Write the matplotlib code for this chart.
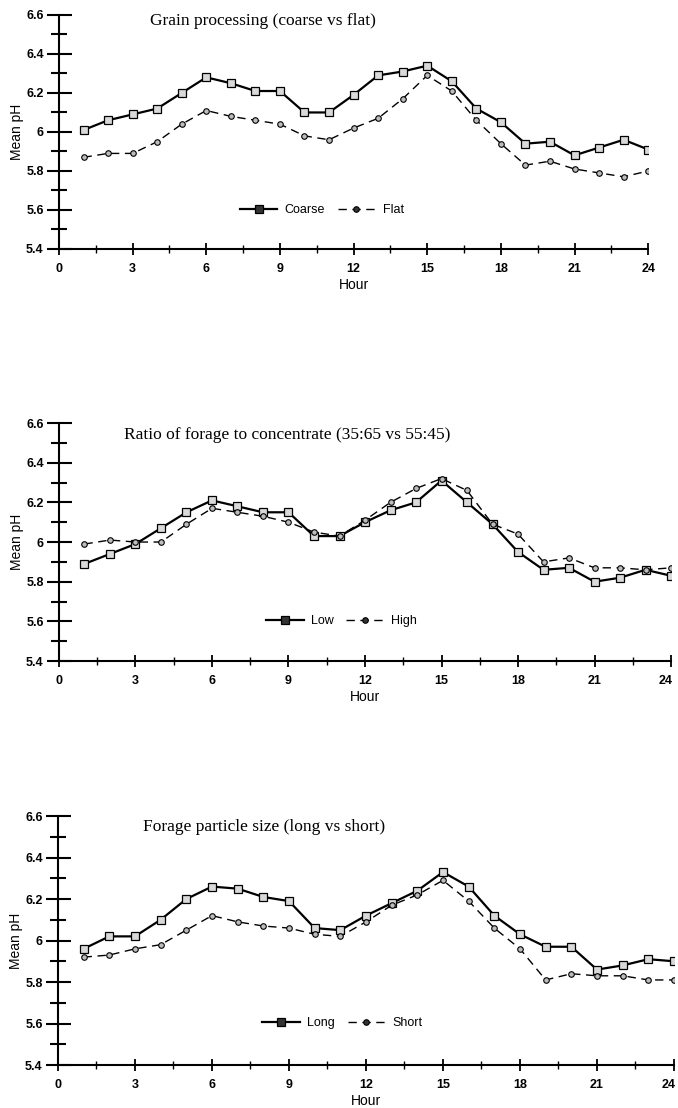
import matplotlib
matplotlib.use("Agg")
import matplotlib.pyplot as plt
from matplotlib.ticker import MultipleLocator, FixedLocator, FuncFormatter

# hours 1..24
hours = list(range(1, 25))

# panel 1: grain processing
coarse = [6.01, 6.06, 6.09, 6.12, 6.20, 6.28, 6.25, 6.21, 6.21, 6.10, 6.10, 6.19,
          6.29, 6.31, 6.34, 6.26, 6.12, 6.05, 5.94, 5.95, 5.88, 5.92, 5.96, 5.91]
flat = [5.87, 5.89, 5.89, 5.95, 6.04, 6.11, 6.08, 6.06, 6.04, 5.98, 5.96, 6.02,
        6.07, 6.17, 6.29, 6.21, 6.06, 5.94, 5.83, 5.85, 5.81, 5.79, 5.77, 5.80]

# panel 2: forage to concentrate ratio
low = [5.89, 5.94, 5.99, 6.07, 6.15, 6.21, 6.18, 6.15, 6.15, 6.03, 6.03, 6.10,
       6.16, 6.20, 6.31, 6.20, 6.09, 5.95, 5.86, 5.87, 5.80, 5.82, 5.86, 5.83]
high = [5.99, 6.01, 6.00, 6.00, 6.09, 6.17, 6.15, 6.13, 6.10, 6.05, 6.03, 6.11,
        6.20, 6.27, 6.32, 6.26, 6.09, 6.04, 5.90, 5.92, 5.87, 5.87, 5.86, 5.87]

# panel 3: forage particle size
long_ = [5.96, 6.02, 6.02, 6.10, 6.20, 6.26, 6.25, 6.21, 6.19, 6.06, 6.05, 6.12,
         6.18, 6.24, 6.33, 6.26, 6.12, 6.03, 5.97, 5.97, 5.86, 5.88, 5.91, 5.90]
short = [5.92, 5.93, 5.96, 5.98, 6.05, 6.12, 6.09, 6.07, 6.06, 6.03, 6.02, 6.09,
         6.17, 6.22, 6.29, 6.19, 6.06, 5.96, 5.81, 5.84, 5.83, 5.83, 5.81, 5.81]

titles = ["Grain processing (coarse vs flat)",
          "Ratio of forage to concentrate (35:65 vs 55:45)",
          "Forage particle size (long vs short)"]
labels = [("Coarse", "Flat"), ("Low", "High"), ("Long", "Short")]
series = [(coarse, flat), (low, high), (long_, short)]
title_x = [3.7, 2.55, 3.3]
title_y = [6.57, 6.54, 6.545]
legend_x = [0.446, 0.462, 0.462]

# axes rectangles in figure fractions (left, bottom, width, height)
rects = [(0.087, 0.7753, 0.869, 0.2112),
         (0.087, 0.4034, 0.9027, 0.2148),
         (0.0855, 0.0388, 0.9086, 0.2247)]

fig = plt.figure(figsize=(6.78, 11.08), dpi=100)
sans = "Liberation Sans"


def hour_fmt_cut(v, pos):
    # the last hour is drawn separately so it stays inside the figure
    return "" if v >= 24 else f"{v:.0f}"


for k in range(3):
    ax = fig.add_axes(rects[k])
    a, b = series[k]
    la, lb = labels[k]
    ax.plot(hours, a, '-', color='black', lw=1.6, marker='s', ms=6,
            mfc='#d9d9d9', mec='black', mew=0.9, label=la)
    ax.plot(hours, b, '--', color='black', lw=1.0, dashes=(6, 4), marker='o',
            ms=4, mfc='#bdbdbd', mec='black', mew=0.8, label=lb)

    ax.set_xlim(0, 24)
    ax.set_ylim(5.4, 6.6)
    ax.xaxis.set_major_locator(MultipleLocator(3))
    ax.xaxis.set_minor_locator(MultipleLocator(1.5))
    if k > 0:
        ax.xaxis.set_major_formatter(FuncFormatter(hour_fmt_cut))
    ax.yaxis.set_major_locator(FixedLocator([5.4, 5.6, 5.8, 6.0, 6.2, 6.4, 6.6]))
    ax.yaxis.set_minor_locator(MultipleLocator(0.1))
    ax.set_yticklabels(["5.4", "5.6", "5.8", "6", "6.2", "6.4", "6.6"])

    for s in ['top', 'right']:
        ax.spines[s].set_visible(False)
    for s in ['left', 'bottom']:
        ax.spines[s].set_linewidth(1.5)

    ax.tick_params(axis='y', which='major', direction='inout', length=18, width=1.5,
                   pad=2)
    ax.tick_params(axis='y', which='minor', direction='inout', length=12, width=1.5)
    ax.tick_params(axis='x', which='major', direction='inout', length=8, width=1.3,
                   pad=6)
    ax.tick_params(axis='x', which='minor', direction='inout', length=6, width=1.0)
    for t in ax.get_xticklabels() + ax.get_yticklabels():
        t.set_fontfamily(sans)
        t.set_fontweight('bold')
        t.set_fontsize(9)
    if k > 0:
        ax.annotate("24", xy=(24, 0), xycoords=('data', 'axes fraction'),
                    xytext=(1, -10), textcoords='offset points', ha='right',
                    va='top', fontfamily=sans, fontweight='bold', fontsize=9)

    ax.set_xlabel("Hour", fontfamily=sans, fontsize=10, labelpad=2)
    ax.set_ylabel("Mean pH", fontfamily=sans, fontsize=10)
    ax_w = rects[k][2] * 678
    ax.yaxis.set_label_coords(-35 / ax_w, 0.5)

    ax.text(title_x[k], title_y[k], titles[k], fontfamily="Liberation Serif",
            fontsize=12.5, ha='left', va='center')

    leg = ax.legend(loc='center', bbox_to_anchor=(legend_x[k], 0.167), ncol=2,
                    frameon=False, handlelength=3, columnspacing=1.0,
                    handletextpad=0.6, prop={'family': sans, 'size': 9})
    for h in leg.legend_handles:
        h.set_markerfacecolor('#333333')

fig.savefig("out.png", dpi=100)
